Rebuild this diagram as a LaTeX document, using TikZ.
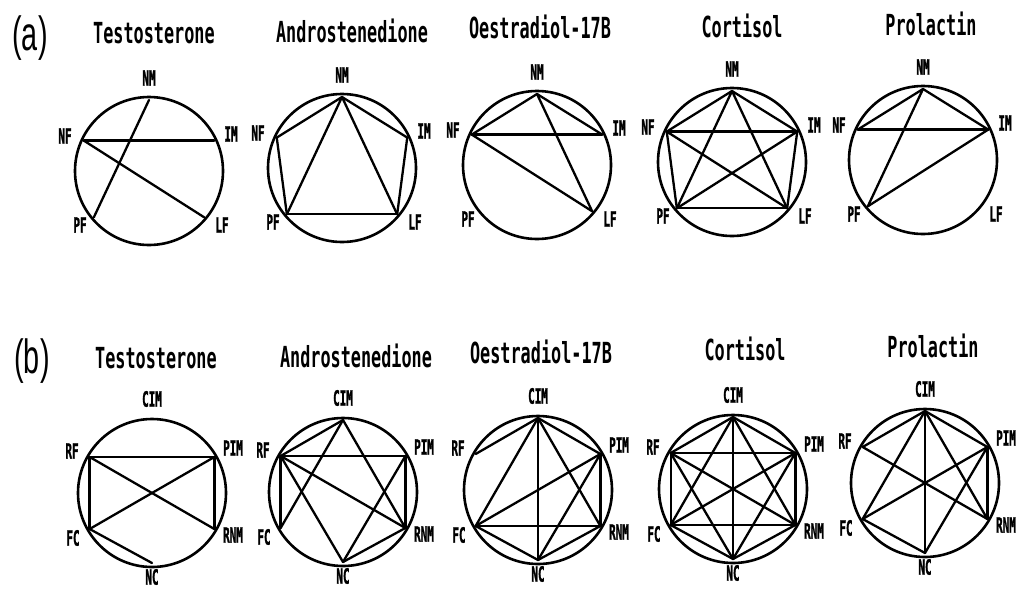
\documentclass[tikz,border=0pt]{standalone}
\usepackage{fontspec}
\newfontfamily\plotfont{DejaVu Sans Mono}[FakeStretch=0.58]
\newfontfamily\labfont{DejaVu Sans Mono}[FakeStretch=0.52, FakeBold=1.2]
\newfontfamily\tagfont{Liberation Sans}[FakeStretch=0.6]
\tikzset{
  ring/.style={line width=2.6pt},
  chord/.style={line width=2.3pt, line cap=round},
  vlab/.style={font=\labfont\bfseries\fontsize{21}{21}\selectfont, inner sep=0pt},
  ptitle/.style={font=\plotfont\bfseries\fontsize{29}{29}\selectfont, inner sep=0pt, anchor=base},
  ptag/.style={font=\tagfont\fontsize{48}{48}\selectfont, inner sep=0pt},
}
% pentagon panel: #1 id, #2 cx, #3 cy, #4 title, #5 title x, #6 title baseline, #7 edges
\newcommand\pentpanel[7]{%
  \node[ptitle] (#1-t) at (#5,#6) {#4};
  \begin{scope}[shift={(#2,#3)}]
    \draw[ring] (0,0) circle [radius=74];
    \coordinate (#1-NM) at (-90:71);
    \coordinate (#1-IM) at (-25:72);
    \coordinate (#1-LF) at (40:72);
    \coordinate (#1-PF) at (140:72);
    \coordinate (#1-NF) at (-155:72);
    \node[vlab] (#1-lNM) at (0,-93) {NM};
    \node[vlab] (#1-lNF) at (-84,-35) {NF};
    \node[vlab] (#1-lIM) at (82,-37) {IM};
    \node[vlab] (#1-lPF) at (-69,54) {PF};
    \node[vlab] (#1-lLF) at (73,54) {LF};
    \foreach \u/\v in {#7} {\draw[chord] (#1-\u) -- (#1-\v);}
  \end{scope}}
% hexagon panel
\newcommand\hexpanel[7]{%
  \node[ptitle] (#1-t) at (#5,#6) {#4};
  \begin{scope}[shift={(#2,#3)}]
    \draw[ring] (0,0) circle [radius=74];
    \coordinate (#1-CIM) at (-90:72);
    \coordinate (#1-PIM) at (-30:72);
    \coordinate (#1-RNM) at (30:72);
    \coordinate (#1-NC) at (90:70);
    \coordinate (#1-FC) at (150:72);
    \coordinate (#1-RF) at (-150:72);
    \node[vlab] (#1-lCIM) at (0,-94) {CIM};
    \node[vlab] (#1-lRF) at (-80,-42) {RF};
    \node[vlab] (#1-lPIM) at (81,-45) {PIM};
    \node[vlab] (#1-lFC) at (-79,45) {FC};
    \node[vlab] (#1-lRNM) at (81,42) {RNM};
    \node[vlab] (#1-lNC) at (0,84) {NC};
    \foreach \u/\v in {#7} {\draw[chord] (#1-\u) -- (#1-\v);}
  \end{scope}}
\begin{document}
\begin{tikzpicture}[x=1pt,y=-1pt]
\useasboundingbox (0,0) rectangle (1017,592);
\node[ptag] (taga) at (30,38) {(a)};
\node[ptag] (tagb) at (32,361) {(b)};
% row (a)
\pentpanel{a1}{149}{171}{Testosterone}{154}{43}{NM/PF,NF/IM,NF/LF}
\pentpanel{a2}{342}{168}{Androstenedione}{352}{42}{NM/NF,NM/IM,NM/PF,NM/LF,NF/PF,IM/LF,PF/LF}
\pentpanel{a3}{537}{165}{Oestradiol-17B}{540}{38}{NM/NF,NM/IM,NM/LF,NF/IM,NF/LF}
\pentpanel{a4}{732}{162}{Cortisol}{742}{37}{NM/NF,NM/IM,NM/PF,NM/LF,NF/IM,NF/PF,NF/LF,IM/PF,IM/LF,PF/LF}
\pentpanel{a5}{923}{160}{Prolactin}{931}{35}{NM/NF,NM/IM,NM/PF,NF/IM,IM/PF}
% row (b)
\hexpanel{b1}{152}{493}{Testosterone}{156}{368}{RF/PIM,RF/FC,RF/RNM,PIM/FC,PIM/RNM,FC/NC}
\hexpanel{b2}{343}{492}{Androstenedione}{356}{367}{CIM/RF,CIM/FC,CIM/RNM,RF/PIM,RF/FC,RF/RNM,RF/NC,PIM/RNM,PIM/NC,RNM/NC}
\hexpanel{b3}{538}{490}{Oestradiol-17B}{541}{363}{CIM/RF,CIM/FC,CIM/PIM,CIM/NC,CIM/RNM,PIM/FC,PIM/RNM,PIM/NC,FC/RNM,FC/NC,RNM/NC}
\hexpanel{b4}{733}{489}{Cortisol}{745}{360}{CIM/RF,CIM/PIM,CIM/FC,CIM/RNM,CIM/NC,RF/PIM,RF/FC,RF/RNM,RF/NC,PIM/FC,PIM/RNM,PIM/NC,FC/RNM,FC/NC,RNM/NC}
\hexpanel{b5}{925}{483}{Prolactin}{933}{357}{CIM/RF,CIM/PIM,CIM/FC,CIM/RNM,CIM/NC,RF/RNM,PIM/FC,PIM/RNM,PIM/NC,FC/NC}
\end{tikzpicture}
\end{document}
